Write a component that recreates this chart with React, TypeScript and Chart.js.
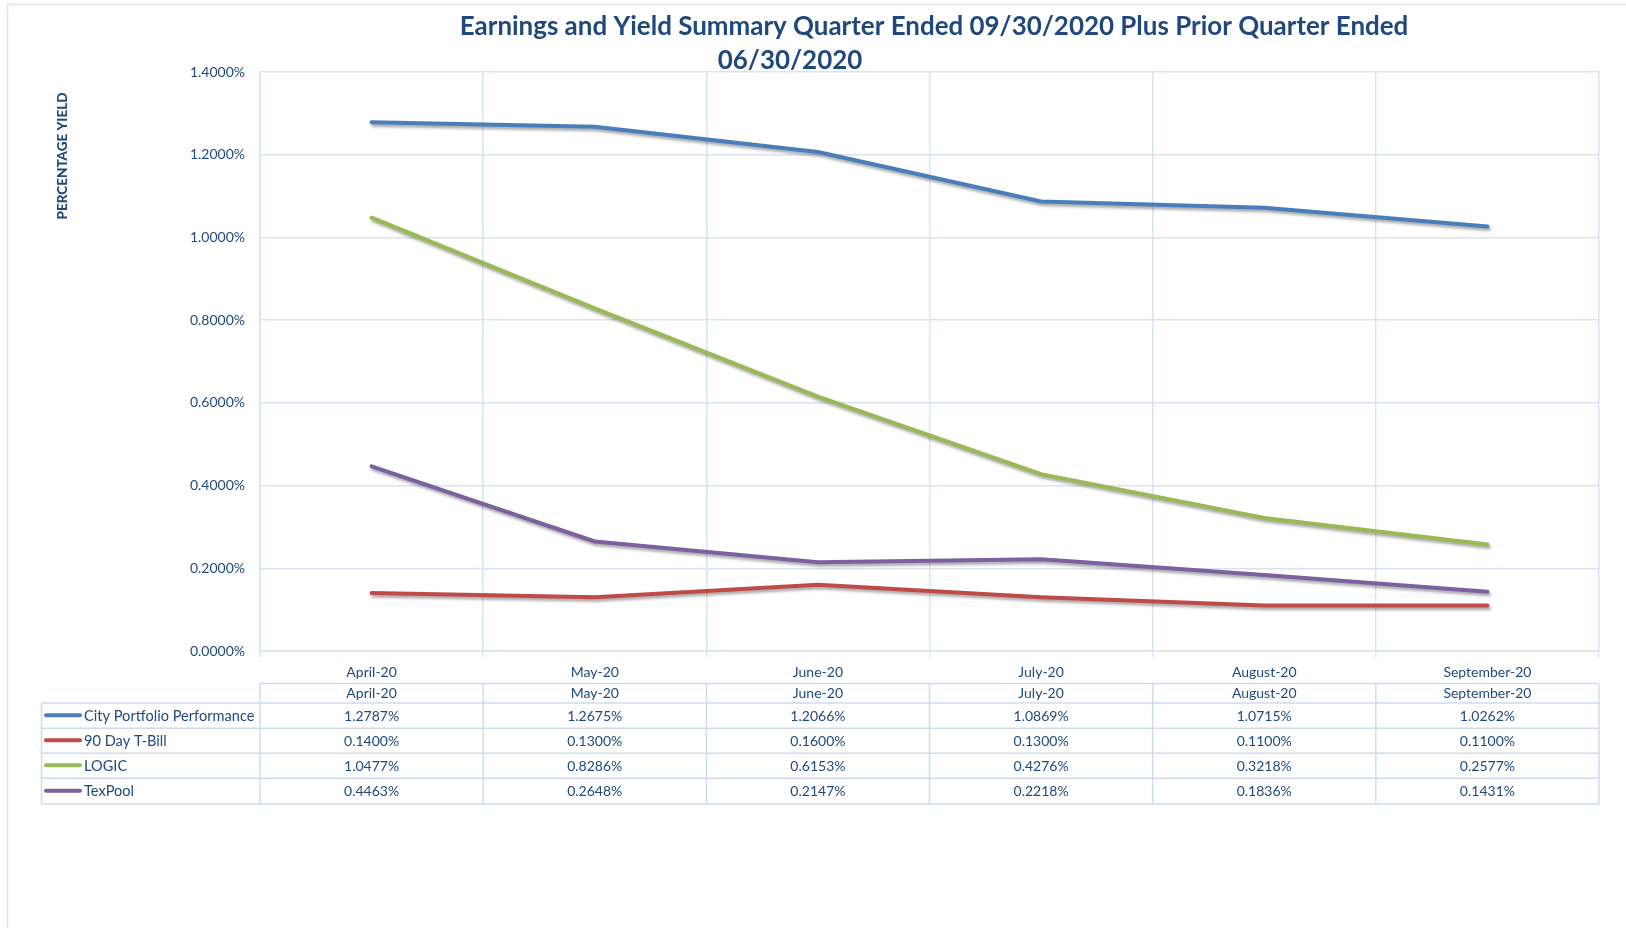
import React, { useEffect, useRef } from 'react';
import { Chart, registerables } from 'chart.js';

Chart.register(...registerables);

// ---------- data ----------
const categories = ['April-20', 'May-20', 'June-20', 'July-20', 'August-20', 'September-20'];
const seriesNames = ['City Portfolio Performance', '90 Day T-Bill', 'LOGIC', 'TexPool'];
const cityPortfolio = [1.2787, 1.2675, 1.2066, 1.0869, 1.0715, 1.0262];
const tBill90 = [0.14, 0.13, 0.16, 0.13, 0.11, 0.11];
const logic = [1.0477, 0.8286, 0.6153, 0.4276, 0.3218, 0.2577];
const texPool = [0.4463, 0.2648, 0.2147, 0.2218, 0.1836, 0.1431];
const yMin = 0;
const yMax = 1.4;
const yStep = 0.2;
const titleLine1 = 'Earnings and Yield Summary Quarter Ended 09/30/2020 Plus Prior Quarter Ended';
const titleLine2 = '06/30/2020';
const yAxisTitle = 'PERCENTAGE YIELD';

// ---------- styles ----------
const seriesColors = ['#4A7EBB', '#BE4B48', '#98B954', '#7D60A0'];
const TEXT = '#1F497D';
const GRID = '#D9E3F2';
const TABLE_LINE = '#CFDCEF';
const FONT = 'Lato, "Open Sans", "DejaVu Sans", sans-serif';
const TEXT_SIZE = 14;

const fmt = (v: number) => v.toFixed(4) + '%';

const shadowPlugin = {
  id: 'lineShadow',
  beforeDatasetDraw(chart: any) {
    const ctx = chart.ctx;
    ctx.save();
    ctx.shadowColor = 'rgba(0,0,0,0.35)';
    ctx.shadowBlur = 3;
    ctx.shadowOffsetX = 1.5;
    ctx.shadowOffsetY = 2.5;
  },
  afterDatasetDraw(chart: any) {
    chart.ctx.restore();
  },
};

const decorPlugin = {
  id: 'decor',
  beforeDraw(chart: any) {
    const ctx = chart.ctx;
    ctx.save();
    ctx.fillStyle = '#ffffff';
    ctx.fillRect(0, 0, chart.width, chart.height);
    ctx.strokeStyle = GRID;
    ctx.lineWidth = 1.5;
    ctx.beginPath();
    ctx.moveTo(7.5, chart.height + 5);
    ctx.lineTo(7.5, 4.5);
    ctx.lineTo(chart.width + 5, 4.5);
    ctx.stroke();
    ctx.restore();
  },
  afterDraw(chart: any) {
    const ctx = chart.ctx;
    const area = chart.chartArea;
    const xs = chart.scales.x;
    ctx.save();

    // title
    ctx.fillStyle = TEXT;
    ctx.textAlign = 'center';
    ctx.textBaseline = 'middle';
    ctx.font = `bold 100px ${FONT}`;
    const w = ctx.measureText(titleLine1).width;
    const size = Math.min(26, (100 * 949) / w);
    ctx.font = `bold ${size}px ${FONT}`;
    ctx.fillText(titleLine1, 934, 27);
    ctx.fillText(titleLine2, 790, 61);

    // y-axis title
    ctx.save();
    ctx.translate(63, 156);
    ctx.rotate(-Math.PI / 2);
    ctx.font = `900 13.5px ${FONT}`;
    ctx.fillText(yAxisTitle, 0, 0);
    ctx.restore();

    // data table
    const n = categories.length;
    const colW = (area.right - area.left) / n;
    const bounds: number[] = [];
    for (let i = 0; i <= n; i++) bounds.push(area.left + colW * i);
    const headerTop = 683.5;
    const rowTops = [703, 728.3, 753.3, 778.3, 804];
    const legendLeft = 41.5;

    ctx.strokeStyle = TABLE_LINE;
    ctx.lineWidth = 1.5;
    ctx.beginPath();
    ctx.moveTo(area.left, headerTop);
    ctx.lineTo(area.right, headerTop);
    rowTops.forEach((y) => {
      ctx.moveTo(legendLeft, y);
      ctx.lineTo(area.right, y);
    });
    bounds.forEach((x) => {
      ctx.moveTo(x, headerTop);
      ctx.lineTo(x, rowTops[rowTops.length - 1]);
    });
    ctx.moveTo(legendLeft, rowTops[0]);
    ctx.lineTo(legendLeft, rowTops[rowTops.length - 1]);
    ctx.stroke();

    ctx.font = `${TEXT_SIZE}px ${FONT}`;
    ctx.fillStyle = TEXT;
    ctx.textAlign = 'center';
    ctx.textBaseline = 'middle';
    categories.forEach((c, i) => {
      ctx.fillText(c, xs.getPixelForValue(i), (headerTop + rowTops[0]) / 2 + 0.5);
    });
    chart.data.datasets.forEach((ds: any, r: number) => {
      const cy = (rowTops[r] + rowTops[r + 1]) / 2;
      ctx.font = `${TEXT_SIZE}px ${FONT}`;
      ds.data.forEach((v: number, i: number) => {
        ctx.fillStyle = TEXT;
        ctx.textAlign = 'center';
        ctx.fillText(fmt(v), xs.getPixelForValue(i), cy + 0.5);
      });
      ctx.strokeStyle = seriesColors[r];
      ctx.lineWidth = 4;
      ctx.lineCap = 'round';
      ctx.beginPath();
      ctx.moveTo(46, cy - 0.5);
      ctx.lineTo(80, cy - 0.5);
      ctx.stroke();
      ctx.textAlign = 'left';
      ctx.fillStyle = TEXT;
      ctx.font = `14.6px ${FONT}`;
      ctx.fillText(ds.label, 84, cy + 0.5);
    });

    ctx.restore();
  },
};

export default function App() {
  const ref = useRef<HTMLCanvasElement | null>(null);

  useEffect(() => {
    if (!ref.current) return;
    const seriesValues = [cityPortfolio, tBill90, logic, texPool];
    const chart = new Chart(ref.current, {
      type: 'line',
      data: {
        labels: categories,
        datasets: seriesNames.map((name, i) => ({
          label: name,
          data: seriesValues[i],
          borderColor: seriesColors[i],
          backgroundColor: seriesColors[i],
          borderWidth: 4,
          borderCapStyle: 'round',
          borderJoinStyle: 'round',
          pointRadius: 0,
          pointHoverRadius: 0,
          tension: 0,
          fill: false,
        })),
      },
      options: {
        responsive: false,
        animation: false,
        devicePixelRatio: 1,
        events: [],
        layout: { padding: { left: 0, right: 27, top: 72, bottom: 249 } },
        plugins: {
          legend: { display: false },
          title: { display: false },
          tooltip: { enabled: false },
        },
        scales: {
          x: {
            offset: true,
            grid: { offset: true, color: GRID, tickColor: GRID, tickLength: 6, drawTicks: true, lineWidth: 1.5 },
            border: { color: GRID, width: 1.5 },
            ticks: { color: TEXT, font: { family: FONT, size: TEXT_SIZE }, padding: 7, maxRotation: 0, autoSkip: false },
            afterFit: (s: any) => {
              s.height = 28;
            },
          },
          y: {
            min: yMin,
            max: yMax,
            ticks: {
              stepSize: yStep,
              color: TEXT,
              font: { family: FONT, size: TEXT_SIZE },
              padding: 15,
              callback: (v: any) => fmt(Number(v)),
            },
            grid: { color: GRID, drawTicks: false, lineWidth: 1.5 },
            border: { color: GRID, width: 1.5 },
            afterFit: (s: any) => {
              s.width = 260;
            },
          },
        },
      },
      plugins: [shadowPlugin, decorPlugin],
    } as any);
    return () => chart.destroy();
  }, []);

  return (
    <div style={{ position: 'fixed', left: 0, top: 0, width: 1626, height: 928, background: '#fff' }}>
      <canvas ref={ref} width={1626} height={928} style={{ display: 'block' }} />
    </div>
  );
}
